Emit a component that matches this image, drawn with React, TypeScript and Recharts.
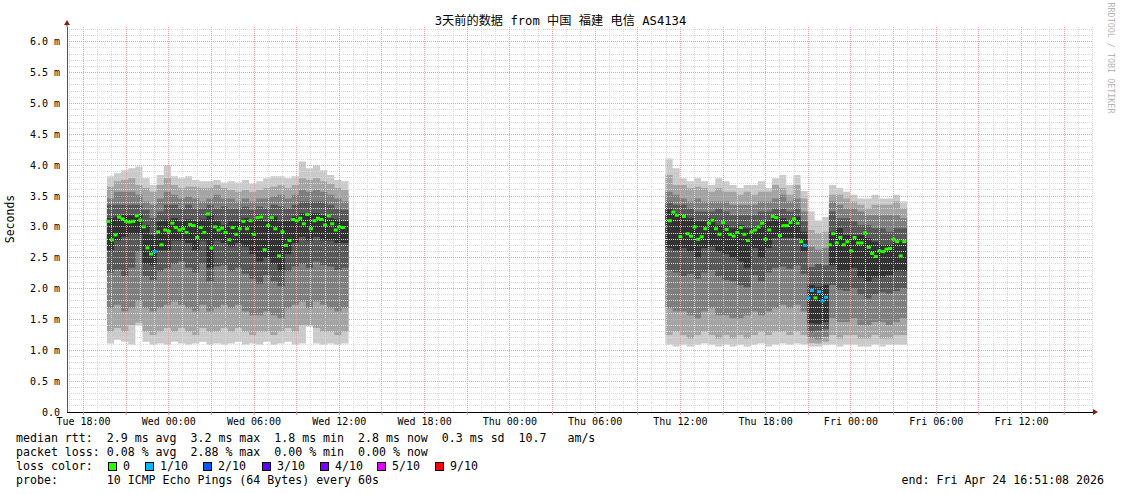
import React from "react";
import { ComposedChart, Area, Scatter, XAxis, YAxis, ReferenceLine } from "recharts";

// x is hours counted from Tue 00:00, y is round trip time in milliseconds
const X_DOMAIN: [number, number] = [16.84, 89.03];
const Y_DOMAIN: [number, number] = [0, 6.24];

const xTickHours = [18, 21, 24, 27, 30, 33, 36, 39, 42, 45, 48, 51, 54, 57, 60, 63, 66, 69, 72, 75, 78, 81, 84, 87];
const xTickLabels = [
  "Tue 18:00", "", "Wed 00:00", "", "Wed 06:00", "", "Wed 12:00", "", "Wed 18:00", "", "Thu 00:00", "",
  "Thu 06:00", "", "Thu 12:00", "", "Thu 18:00", "", "Fri 00:00", "", "Fri 06:00", "", "Fri 12:00", "",
];
const yTicks = [0, 0.5, 1, 1.5, 2, 2.5, 3, 3.5, 4, 4.5, 5, 5.5, 6];
const yTickLabels = ["0.0", "0.5 m", "1.0 m", "1.5 m", "2.0 m", "2.5 m", "3.0 m", "3.5 m", "4.0 m", "4.5 m", "5.0 m", "5.5 m", "6.0 m"];

// smoke: 10 sorted pings per 30 min slot, first run Tue 19:39 - Wed 12:39
const run1Start = 19.65;
const run1P1 = [1.11, 1.17, 1.14, 1.09, 1.40, 1.14, 1.09, 1.11, 1.09, 1.14, 1.11, 1.09, 1.11, 1.14, 1.09, 1.11, 1.09, 1.11, 1.14, 1.09, 1.11, 1.09, 1.14, 1.09, 1.11, 1.14, 1.09, 1.11, 1.38, 1.11, 1.09, 1.11, 1.09, 1.11];
const run1P2 = [1.30, 1.36, 1.30, 1.41, 1.45, 1.30, 1.25, 1.30, 1.36, 1.30, 1.36, 1.30, 1.25, 1.36, 1.30, 1.30, 1.36, 1.30, 1.36, 1.30, 1.25, 1.30, 1.30, 1.25, 1.30, 1.36, 1.30, 1.41, 1.41, 1.36, 1.30, 1.30, 1.25, 1.30];
const run1P3 = [1.68, 1.74, 1.63, 1.68, 1.80, 1.68, 1.63, 1.68, 1.74, 1.79, 1.74, 1.68, 1.63, 1.74, 1.63, 1.68, 1.74, 1.68, 1.74, 1.63, 1.57, 1.57, 1.63, 1.57, 1.52, 1.68, 1.74, 1.79, 1.68, 1.79, 1.74, 1.68, 1.63, 1.68];
const run1P4 = [2.26, 2.31, 2.20, 2.34, 2.60, 2.20, 2.14, 2.28, 2.33, 2.40, 2.44, 2.34, 2.26, 2.40, 2.12, 2.36, 2.38, 2.28, 2.34, 2.24, 2.16, 2.08, 2.22, 2.12, 2.04, 2.28, 2.36, 2.40, 2.34, 2.44, 2.38, 2.36, 2.30, 2.34];
const run1P5 = [2.62, 2.78, 2.84, 2.88, 2.88, 2.40, 2.38, 2.62, 2.62, 2.78, 2.78, 2.74, 2.62, 2.78, 2.34, 2.78, 2.74, 2.68, 2.74, 2.68, 2.56, 2.44, 2.50, 2.40, 2.28, 2.56, 2.74, 2.84, 2.78, 2.84, 2.78, 2.78, 2.74, 2.74];
const run1P6 = [3.14, 3.17, 3.19, 3.19, 3.19, 3.03, 2.87, 3.09, 3.12, 3.14, 3.09, 3.12, 3.09, 3.12, 3.19, 3.09, 3.03, 3.09, 3.09, 3.14, 3.12, 3.19, 3.09, 3.17, 3.09, 3.09, 3.17, 3.22, 3.22, 3.22, 3.19, 3.14, 3.12, 3.09];
const run1P7 = [3.36, 3.36, 3.36, 3.36, 3.36, 3.28, 3.14, 3.25, 3.36, 3.36, 3.30, 3.36, 3.30, 3.30, 3.36, 3.30, 3.33, 3.30, 3.30, 3.33, 3.28, 3.33, 3.30, 3.36, 3.33, 3.30, 3.36, 3.41, 3.41, 3.41, 3.41, 3.36, 3.30, 3.28];
const run1P8 = [3.46, 3.57, 3.57, 3.57, 3.52, 3.41, 3.36, 3.46, 3.57, 3.52, 3.46, 3.49, 3.46, 3.41, 3.46, 3.52, 3.46, 3.46, 3.41, 3.46, 3.41, 3.46, 3.46, 3.49, 3.52, 3.46, 3.52, 3.60, 3.57, 3.60, 3.57, 3.52, 3.46, 3.41];
const run1P9 = [3.65, 3.74, 3.76, 3.79, 3.68, 3.63, 3.57, 3.68, 3.79, 3.68, 3.63, 3.65, 3.65, 3.63, 3.63, 3.68, 3.63, 3.60, 3.57, 3.60, 3.57, 3.60, 3.63, 3.65, 3.68, 3.63, 3.68, 3.79, 3.76, 3.79, 3.74, 3.70, 3.63, 3.60];
const run1P10 = [3.82, 3.87, 3.92, 3.95, 3.98, 3.79, 3.68, 3.84, 4.00, 3.82, 3.79, 3.82, 3.76, 3.74, 3.74, 3.76, 3.72, 3.74, 3.72, 3.76, 3.70, 3.74, 3.79, 3.82, 3.82, 3.79, 3.82, 4.06, 3.95, 4.00, 3.92, 3.84, 3.76, 3.74];

// second run Thu 10:57 - Fri 03:57, with the drop around Thu 23:00
const run2Start = 58.95;
const run2P1 = [1.09, 1.06, 1.09, 1.06, 1.09, 1.11, 1.09, 1.06, 1.09, 1.06, 1.09, 1.06, 1.09, 1.11, 1.06, 1.09, 1.11, 1.09, 1.11, 1.09, 1.06, 1.06, 1.08, 1.09, 1.06, 1.09, 1.09, 1.06, 1.06, 1.09, 1.06, 1.09, 1.09, 1.09];
const run2P2 = [1.25, 1.30, 1.25, 1.19, 1.25, 1.30, 1.25, 1.19, 1.25, 1.19, 1.25, 1.19, 1.25, 1.30, 1.25, 1.30, 1.30, 1.25, 1.30, 1.25, 1.12, 1.11, 1.14, 1.25, 1.19, 1.25, 1.25, 1.19, 1.19, 1.25, 1.19, 1.19, 1.25, 1.25];
const run2P3 = [1.68, 1.63, 1.63, 1.57, 1.52, 1.63, 1.68, 1.57, 1.57, 1.52, 1.52, 1.57, 1.63, 1.57, 1.63, 1.68, 1.74, 1.68, 1.74, 1.63, 1.20, 1.18, 1.22, 1.52, 1.46, 1.46, 1.52, 1.41, 1.41, 1.46, 1.46, 1.41, 1.46, 1.52];
const run2P4 = [2.30, 2.26, 2.20, 2.24, 2.16, 2.26, 2.30, 2.20, 2.14, 2.12, 2.06, 2.02, 2.22, 2.12, 2.26, 2.34, 2.36, 2.32, 2.38, 2.24, 1.30, 1.32, 1.34, 2.06, 1.98, 1.96, 2.00, 1.90, 1.84, 1.90, 1.94, 1.92, 1.96, 2.00];
const run2P5 = [2.66, 2.62, 2.66, 2.60, 2.50, 2.66, 2.68, 2.60, 2.56, 2.50, 2.44, 2.34, 2.66, 2.50, 2.66, 2.82, 2.82, 2.82, 2.82, 2.60, 1.44, 1.43, 1.46, 2.38, 2.28, 2.28, 2.34, 2.18, 2.12, 2.18, 2.18, 2.22, 2.28, 2.28];
const run2P6 = [3.30, 3.22, 3.19, 3.14, 3.09, 3.09, 3.14, 3.03, 3.03, 2.98, 3.03, 2.98, 2.98, 3.03, 3.09, 3.19, 3.14, 3.09, 3.17, 2.92, 2.06, 2.03, 2.06, 2.92, 2.98, 2.87, 2.87, 2.87, 2.82, 2.76, 2.71, 2.71, 2.76, 2.76];
const run2P7 = [3.41, 3.36, 3.36, 3.30, 3.25, 3.25, 3.25, 3.30, 3.25, 3.19, 3.19, 3.19, 3.19, 3.25, 3.25, 3.30, 3.30, 3.25, 3.30, 3.09, 2.35, 2.40, 2.38, 3.25, 3.14, 3.14, 3.09, 3.03, 3.03, 2.98, 2.98, 2.92, 2.98, 2.98];
const run2P8 = [3.57, 3.52, 3.46, 3.41, 3.46, 3.41, 3.41, 3.41, 3.41, 3.36, 3.36, 3.36, 3.36, 3.41, 3.41, 3.46, 3.52, 3.41, 3.46, 3.25, 2.68, 2.63, 2.66, 3.41, 3.36, 3.30, 3.30, 3.25, 3.19, 3.19, 3.19, 3.19, 3.19, 3.14];
const run2P9 = [3.84, 3.68, 3.68, 3.63, 3.65, 3.63, 3.57, 3.63, 3.57, 3.57, 3.52, 3.57, 3.52, 3.57, 3.57, 3.68, 3.63, 3.52, 3.68, 3.46, 2.95, 2.90, 2.92, 3.52, 3.52, 3.46, 3.41, 3.36, 3.30, 3.36, 3.36, 3.36, 3.41, 3.30];
const run2P10 = [4.11, 3.95, 3.79, 3.74, 3.79, 3.74, 3.68, 3.79, 3.74, 3.68, 3.63, 3.68, 3.68, 3.74, 3.63, 3.79, 3.84, 3.68, 3.84, 3.58, 3.25, 3.10, 3.16, 3.68, 3.63, 3.57, 3.52, 3.46, 3.46, 3.52, 3.46, 3.46, 3.52, 3.41];

// median rtt, one reading per 15 min, with the loss class of each (0 = none, 1 = 1/10)
const median1Start = 19.75;
const median1 = [
  3.09, 2.79, 2.87, 3.16, 3.13, 3.09, 3.08, 3.09, 3.18, 3.11,
  3.00, 2.66, 2.56, 2.60, 2.92, 2.71, 2.95, 2.93, 3.06, 2.99,
  2.95, 2.97, 2.91, 3.04, 3.02, 2.83, 2.99, 2.91, 3.21, 2.66,
  3.00, 2.95, 2.98, 2.91, 2.79, 2.99, 2.88, 2.97, 3.09, 2.97,
  3.10, 2.88, 3.15, 3.16, 2.63, 3.02, 3.15, 2.97, 2.53, 2.92,
  2.70, 2.78, 3.12, 3.10, 3.14, 3.05, 3.20, 2.97, 3.10, 3.14,
  3.12, 3.03, 3.18, 3.05, 2.95, 3.00, 2.99,
];
const loss1 = [
  0, 0, 0, 0, 0, 0, 0, 0, 0, 0, 0, 0, 0, 1, 0, 0, 0, 0, 0, 0, 0, 0, 0, 0, 0, 0, 0, 0, 0, 0, 0, 0, 0, 0,
  0, 0, 0, 0, 0, 0, 0, 0, 0, 0, 0, 0, 0, 0, 0, 0, 0, 0, 0, 0, 0, 0, 0, 0, 0, 0, 0, 0, 0, 0, 0, 0, 0,
];
const median2Start = 59.25;
const median2 = [
  3.10, 3.24, 3.19, 2.84, 3.17, 2.89, 2.85, 3.00, 2.80, 2.84,
  2.97, 3.06, 3.11, 2.97, 2.88, 3.07, 2.96, 2.88, 2.85, 2.91,
  2.99, 2.88, 2.78, 2.92, 2.95, 3.00, 3.06, 2.80, 2.95, 3.17,
  3.15, 2.86, 3.02, 3.02, 3.07, 3.13, 3.06, 2.76, 2.70, 1.85,
  1.97, 1.85, 1.95, 1.80, 1.86, 2.71, 2.89, 2.74, 2.83, 2.71,
  2.76, 2.61, 2.83, 2.74, 2.74, 2.90, 2.67, 2.57, 2.52, 2.61,
  2.60, 2.64, 2.65, 2.80, 2.76, 2.53, 2.76,
];
const loss2 = [
  0, 0, 0, 0, 0, 0, 0, 0, 0, 0, 0, 0, 0, 0, 0, 0, 0, 0, 0, 0, 0, 0, 0, 0, 0, 0, 0, 0, 0, 0, 0, 0, 0, 0,
  0, 0, 0, 0, 1, 1, 1, 0, 1, 1, 1, 0, 0, 0, 0, 0, 0, 0, 0, 0, 0, 0, 0, 0, 0, 0, 0, 0, 0, 0, 0, 0, 0,
];

const lossLabels = ["0", "1/10", "2/10", "3/10", "4/10", "5/10", "9/10"];
const lossColors = ["#26ff00", "#00b8ff", "#0059ff", "#5e00ff", "#7e00ff", "#dd00ff", "#ff0000"];
const smokeGreys = ["#cacaca", "#a4a4a4", "#7e7e7e", "#585858", "#323232"];
const bandKeys = ["b0", "b1", "b2", "b3", "b4"];

const SLOT = 0.5;
const MEDIAN_STEP = 0.25;
const MONO = "'DejaVu Sans Mono', 'Noto Sans CJK SC', monospace";

type Row = { t: number; [band: string]: number | [number, number] | null };

function buildRun(start: number, q: number[][]): Row[] {
  const rows: Row[] = q[0].map((_, k) => {
    const row: Row = { t: start + k * SLOT };
    bandKeys.forEach((key, b) => {
      row[key] = [q[b][k], q[9 - b][k]];
    });
    return row;
  });
  // step areas need a closing vertex at the end of the last slot
  const last = rows[rows.length - 1];
  rows.push({ ...last, t: last.t + SLOT });
  return rows;
}

const gapRow: Row = { t: 48, b0: null, b1: null, b2: null, b3: null, b4: null };

const smokeRows: Row[] = [
  ...buildRun(run1Start, [run1P1, run1P2, run1P3, run1P4, run1P5, run1P6, run1P7, run1P8, run1P9, run1P10]),
  gapRow,
  ...buildRun(run2Start, [run2P1, run2P2, run2P3, run2P4, run2P5, run2P6, run2P7, run2P8, run2P9, run2P10]),
];

const medianPoints = [
  ...median1.map((v, j) => ({ t: median1Start + j * MEDIAN_STEP, v, loss: loss1[j] })),
  ...median2.map((v, j) => ({ t: median2Start + j * MEDIAN_STEP, v, loss: loss2[j] })),
];

const minorHours: number[] = [];
for (let h = 17; h <= 89; h++) if (h % 3 !== 0) minorHours.push(h);
const majorHours: number[] = [];
for (let h = 18; h <= 87; h += 3) majorHours.push(h);
const minorMs: number[] = [];
for (let i = 1; i <= 62; i++) if (i % 5 !== 0) minorMs.push(i / 10);
const majorMs = yTicks.filter(v => v > 0);

const MedianMark = (props: any) => {
  const { cx, cy, payload } = props;
  if (cx == null || cy == null || !payload) return <g />;
  return <rect x={cx - 2} y={cy - 1.5} width={4} height={3} fill={lossColors[payload.loss] ?? lossColors[0]} />;
};

const legendRows = [
  "median rtt:  2.9 ms avg  3.2 ms max  1.8 ms min  2.8 ms now  0.3 ms sd  10.7   am/s",
  "packet loss: 0.08 % avg  2.88 % max  0.00 % min  0.00 % now",
  "loss color:",
  "probe:       10 ICMP Echo Pings (64 Bytes) every 60s",
];
const lossBoxX = [108, 145, 203, 262, 320, 377, 435];

const text = { fontFamily: MONO, color: "#000", whiteSpace: "pre" as const, position: "absolute" as const };

export default function App() {
  return (
    <div style={{ position: "absolute", left: 0, top: 0, width: 1121, height: 494, background: "#fff", overflow: "hidden" }}>
      <style>{".recharts-reference-line line, .recharts-cartesian-axis-line { shape-rendering: crispEdges; }"}</style>
      <ComposedChart width={1121} height={494} data={smokeRows} margin={{ top: 27, right: 28, bottom: 62, left: 7 }}>
        <XAxis
          type="number"
          dataKey="t"
          domain={X_DOMAIN}
          allowDataOverflow
          ticks={xTickHours}
          interval={0}
          tickFormatter={(v: number) => xTickLabels[xTickHours.indexOf(v)] ?? ""}
          height={20}
          tickSize={3}
          tickMargin={3}
          axisLine={{ stroke: "#000" }}
          tickLine={{ stroke: "#e88" }}
          tick={{ fontSize: 10, fontFamily: MONO, fill: "#000" }}
        />
        <YAxis
          type="number"
          domain={Y_DOMAIN}
          allowDataOverflow
          ticks={yTicks}
          interval={0}
          tickFormatter={(v: number) => yTickLabels[yTicks.indexOf(v)] ?? ""}
          width={60}
          tickSize={0}
          tickMargin={7}
          axisLine={{ stroke: "#555" }}
          tickLine={false}
          tick={{ fontSize: 10, fontFamily: MONO, fill: "#000" }}
        />
        {smokeGreys.map((c, b) => (
          <Area
            key={bandKeys[b]}
            type="stepAfter"
            dataKey={bandKeys[b]}
            fill={c}
            fillOpacity={1}
            stroke="none"
            connectNulls={false}
            dot={false}
            activeDot={false}
            isAnimationActive={false}
          />
        ))}
        {minorHours.map(h => (
          <ReferenceLine key={"mh" + h} x={h} stroke="#dadada" strokeDasharray="1 1" />
        ))}
        {minorMs.map(v => (
          <ReferenceLine key={"mv" + v} y={v} stroke="#dadada" strokeDasharray="1 1" />
        ))}
        {majorHours.map(h => (
          <ReferenceLine key={"Mh" + h} x={h} stroke="#f0a0a0" strokeDasharray="1 1" />
        ))}
        {majorMs.map(v => (
          <ReferenceLine key={"Mv" + v} y={v} stroke="#f0a0a0" strokeDasharray="1 1" />
        ))}
        <Scatter data={medianPoints} dataKey="v" shape={MedianMark} isAnimationActive={false} />
      </ComposedChart>

      <svg width={1121} height={494} style={{ position: "absolute", left: 0, top: 0, pointerEvents: "none" }}>
        <line x1={67} y1={27} x2={67} y2={24} stroke="#555" />
        <polygon points="64,25 70,25 67,20" fill="#8b1c1c" />
        <polygon points="1093,409 1093,415 1098,412" fill="#8b1c1c" />
      </svg>

      <div style={{ ...text, left: 0, width: 1121, top: 13, textAlign: "center", fontSize: 12.2, lineHeight: "16px" }}>
        3天前的数据 from 中国 福建 电信 AS4134
      </div>
      <div style={{ ...text, left: -40, top: 211, width: 100, textAlign: "center", fontSize: 11.5, lineHeight: "16px", transform: "rotate(-90deg)" }}>
        Seconds
      </div>
      <div style={{ ...text, left: 1051, top: 52, width: 120, textAlign: "center", fontSize: 8.4, lineHeight: "12px", color: "#b4b4b4", transform: "rotate(90deg)" }}>
        RRDTOOL / TOBI OETIKER
      </div>

      {legendRows.map((row, i) => (
        <div key={row} style={{ ...text, left: 16, top: 431 + i * 14, fontSize: 11.6, lineHeight: "14px" }}>
          {row}
        </div>
      ))}
      {lossLabels.map((l, i) => (
        <React.Fragment key={l}>
          <div style={{ position: "absolute", left: lossBoxX[i], top: 462, width: 7, height: 7, background: lossColors[i], border: "1px solid #000" }} />
          <div style={{ ...text, left: lossBoxX[i] + 15, top: 459, fontSize: 11.6, lineHeight: "14px" }}>{l}</div>
        </React.Fragment>
      ))}
      <div style={{ ...text, right: 17, top: 473, fontSize: 11.6, lineHeight: "14px" }}>
        end: Fri Apr 24 16:51:08 2026
      </div>
    </div>
  );
}
